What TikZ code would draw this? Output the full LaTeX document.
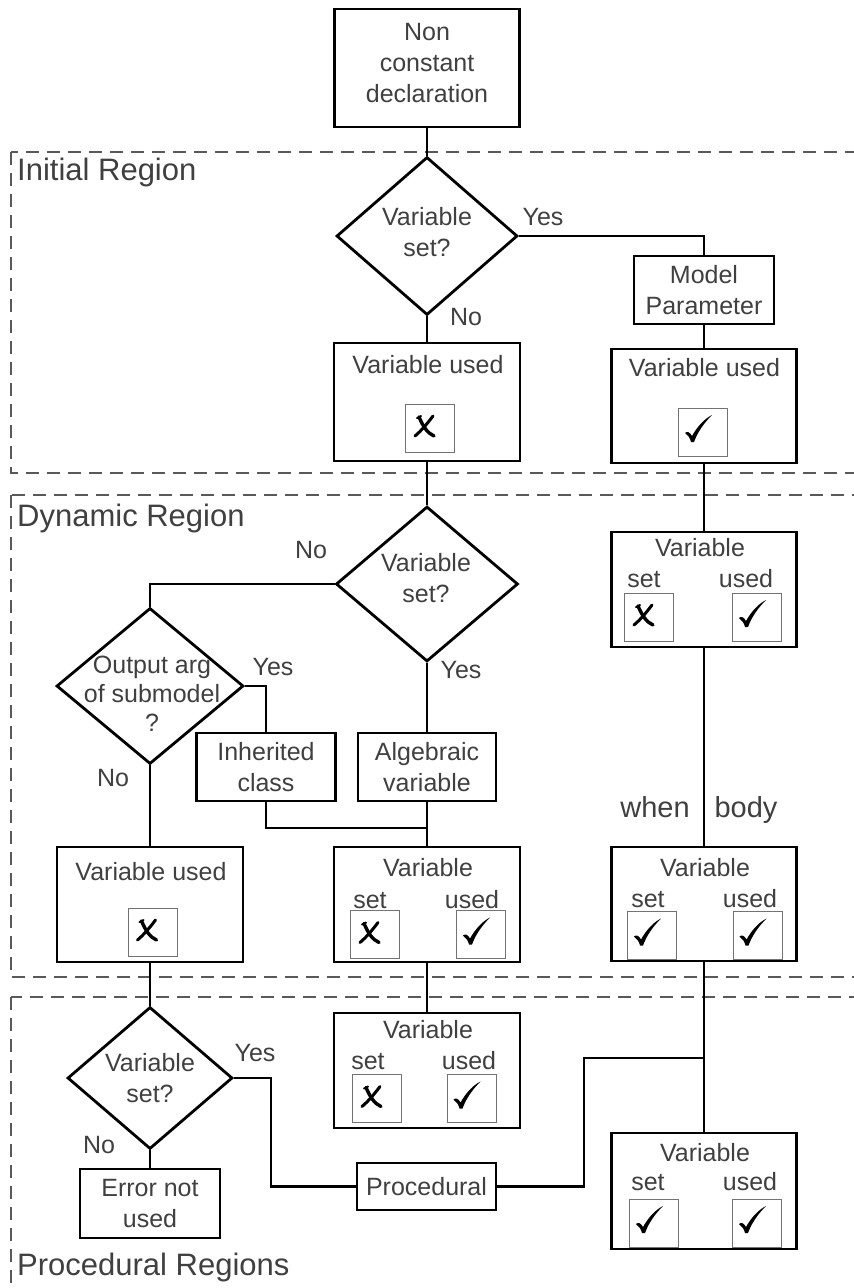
\documentclass[tikz,border=0pt]{standalone}
\usepackage{fontspec}
\setmainfont{Liberation Sans}
\usetikzlibrary{shapes.geometric}
\definecolor{txtc}{gray}{0.25}
\definecolor{dashc}{gray}{0.35}
\definecolor{cbc}{gray}{0.45}
\tikzset{
 lbl/.style={font=\fontsize{25}{31}\selectfont, text=txtc, align=center, inner sep=0pt},
 sub/.style={font=\fontsize{25}{31}\selectfont, text=txtc, inner sep=0pt, anchor=base},
 big/.style={font=\fontsize{29}{34}\selectfont, text=txtc, inner sep=0pt, anchor=base},
 reg/.style={font=\fontsize{31}{36}\selectfont, text=txtc, inner sep=0pt, anchor=west},
 box/.style={draw, line width=2.8pt, inner sep=0pt},
 dia/.style={diamond, draw, line width=2.8pt, inner sep=0pt},
 cbox/.style={draw=cbc, line width=1pt, inner sep=0pt, minimum width=49pt, minimum height=48pt},
 conn/.style={line width=2.6pt},
 region/.style={draw=dashc, line width=1.2pt, dash pattern=on 13pt off 8pt},
 chk/.pic={
   \fill (-18,1) .. controls (-16,-1) and (-13,0) .. (-11,4)
     .. controls (-6,-5) and (1,-13) .. (9,-17)
     .. controls (2,-10) and (-5,-1) .. (-9,10)
     -- (-12,10) .. controls (-13,6) and (-15,3) .. cycle;
 },
 crs/.pic={
   \draw[line width=3.4pt, line cap=round] (-15,-11) .. controls (-11,-2) and (-7,5) .. (0,8);
   \draw[line width=3pt, line cap=round] (-1,-12) .. controls (-7,-4) and (-13,3) .. (-19,8);
   \draw[line width=2pt, line cap=round] (-17,-10) -- (-13,-12);
 },
}
\begin{document}
\begin{tikzpicture}[x=1pt,y=-1pt]
\clip (0,0) rectangle (854,1288);
\fill[white] (0,0) rectangle (854,1288);
% regions
\draw[region] (11,152) rectangle (880,473);
\draw[region] (11,495) rectangle (880,977);
\draw[region] (11,997) rectangle (880,1320);
\node[reg] (rI) at (17,172) {Initial Region};
\node[reg] (rD) at (17,518) {Dynamic Region};
\node[reg] (rP) at (17,1267) {Procedural Regions};
% top
\node[box, minimum width=185pt, minimum height=118pt] (n0) at (427,68) {};
\node[lbl] (n0t) at (427,63) {Non\\constant\\declaration};
% initial region
\node[dia, minimum width=181pt, minimum height=158pt] (d1) at (427,236) {};
\node[lbl] (d1t) at (427,232) {Variable\\set?};
\node[lbl] (d1y) at (543,217) {Yes};
\node[lbl] (d1n) at (466,317) {No};
\node[box,lbl,minimum width=140pt,minimum height=68pt] (mp) at (704,290) {Model\\Parameter};
\node[box,minimum width=186pt,minimum height=118pt] (vu1) at (427,402) {};
\node[lbl] (vu1t) at (428,365) {Variable used};
\node[cbox] (c1) at (430,428) {};
\node[box,minimum width=185pt,minimum height=114pt] (vu2) at (704,406) {};
\node[lbl] (vu2t) at (704.5,368) {Variable used};
\node[cbox] (c2) at (703,432) {};
% dynamic region
\node[dia,minimum width=182pt,minimum height=155pt] (d2) at (427,584) {};
\node[lbl] (d2t) at (426,578) {Variable\\set?};
\node[lbl] (d2n) at (311,550) {No};
\node[lbl] (d2y) at (461,670) {Yes};
\node[dia,minimum width=187pt,minimum height=156pt] (d3) at (150,686) {};
\node[lbl, font=\fontsize{25}{29}\selectfont] (d3t) at (152,694) {Output arg\\of submodel\\?};
\node[lbl] (d3y) at (273,667) {Yes};
\node[lbl] (d3n) at (113,778) {No};
\node[box,lbl,minimum width=139pt,minimum height=68pt] (inh) at (266,767) {Inherited\\class};
\node[box,lbl,minimum width=138pt,minimum height=68pt] (alg) at (427,767) {Algebraic\\variable};
\node[box,minimum width=186pt,minimum height=115pt] (vu3) at (150,904.5) {};
\node[lbl] (vu3t) at (151,872) {Variable used};
\node[cbox] (c3) at (152.5,932) {};
\node[box,minimum width=186pt,minimum height=115pt] (vs1) at (427,904.5) {};
\node[lbl] (vs1t) at (428,868) {Variable};
\node[sub] (vs1s) at (370,908) {set};
\node[sub] (vs1u) at (472,908) {used};
\node[cbox] (c4) at (375,934.5) {};
\node[cbox] (c5) at (481,934.5) {};
\node[box,minimum width=185pt,minimum height=115pt] (vs2) at (704,589.5) {};
\node[lbl] (vs2t) at (700,548) {Variable};
\node[sub] (vs2s) at (644,587) {set};
\node[sub] (vs2u) at (746,587) {used};
\node[cbox] (c6) at (649,617) {};
\node[cbox] (c7) at (757,617) {};
\node[box,minimum width=185pt,minimum height=114pt] (vs3) at (704,904) {};
\node[lbl] (vs3t) at (705,868) {Variable};
\node[sub] (vs3s) at (648,907) {set};
\node[sub] (vs3u) at (750,907) {used};
\node[cbox] (c8) at (652,935.5) {};
\node[cbox] (c9) at (757.5,935.5) {};
\node[big] (wh) at (655,817) {when};
\node[big] (bd) at (746,817) {body};
% procedural regions
\node[dia,minimum width=165pt,minimum height=142pt] (d4) at (150,1078) {};
\node[lbl] (d4t) at (150,1078) {Variable\\set?};
\node[lbl] (d4y) at (255,1053) {Yes};
\node[lbl] (d4n) at (99,1145) {No};
\node[box,lbl,minimum width=140pt,minimum height=69pt] (err) at (150,1203.5) {Error not\\used};
\node[box,lbl,minimum width=139pt,minimum height=47pt] (proc) at (426.5,1186.5) {Procedural};
\node[box,minimum width=186pt,minimum height=115pt] (vs4) at (427,1070.5) {};
\node[lbl] (vs4t) at (428,1030) {Variable};
\node[sub] (vs4s) at (368,1069) {set};
\node[sub] (vs4u) at (469,1069) {used};
\node[cbox] (c10) at (377,1098.5) {};
\node[cbox] (c11) at (471.5,1098.5) {};
\node[box,minimum width=185pt,minimum height=116pt] (vs5) at (704,1191) {};
\node[lbl] (vs5t) at (705,1153) {Variable};
\node[sub] (vs5s) at (648,1190) {set};
\node[sub] (vs5u) at (750,1190) {used};
\node[cbox] (c12) at (654,1223) {};
\node[cbox] (c13) at (757,1223) {};
% marks
\pic at ([xshift=4pt]c1.center) {crs};
\pic at ([xshift=4pt]c3.center) {crs};
\pic at ([xshift=4pt]c4.center) {crs};
\pic at ([xshift=4pt]c6.center) {crs};
\pic at ([xshift=4pt]c10.center) {crs};
\pic at (c2.center) {chk};
\pic at (c5.center) {chk};
\pic at (c7.center) {chk};
\pic at (c8.center) {chk};
\pic at (c9.center) {chk};
\pic at (c11.center) {chk};
\pic at (c12.center) {chk};
\pic at (c13.center) {chk};
% connectors
\draw[conn] (n0.south) -- (d1.north);
\draw[conn] (d1.east) -| (mp.north);
\draw[conn] (d1.south) -- (vu1.north);
\draw[conn] (mp.south) -- (vu2.north);
\draw[conn] (vu1.south) -- (d2.north);
\draw[conn] (d2.west) -| (d3.north);
\draw[conn] (d2.south) -- (alg.north);
\draw[conn] (d3.east) -| (inh.north);
\draw[conn] (d3.south) -- (vu3.north);
\coordinate (j1) at (427,828);
\draw[conn] (inh.south) |- (j1);
\draw[conn] (alg.south) -- (vs1.north);
\draw[conn] (vu2.south) -- (vs2.north);
\draw[conn] (vs2.south) -- (vs3.north);
\draw[conn] (vs1.south) -- (vs4.north);
\draw[conn] (vs3.south) -- (vs5.north);
\draw[conn] (vu3.south) -- (d4.north);
\draw[conn] (d4.south) -- (err.north);
\coordinate (k1) at (271,1186.5);
\draw[conn] (d4.east) -| (k1) -- (proc.west);
\coordinate (k2) at (584,1058);
\coordinate (j2) at (704,1058);
\draw[conn] (proc.east) -| (k2) -- (j2);
\end{tikzpicture}
\end{document}
